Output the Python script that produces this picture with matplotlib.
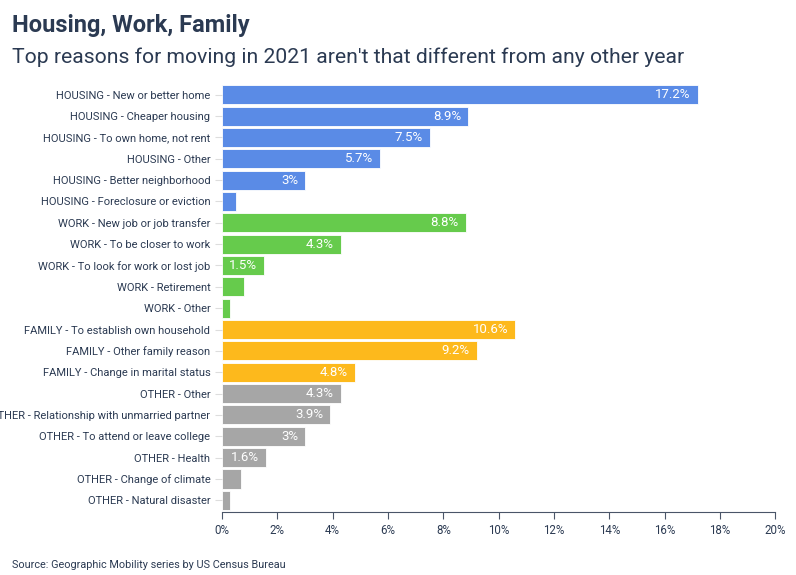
import matplotlib
matplotlib.use("Agg")
import matplotlib.pyplot as plt
from matplotlib.ticker import FuncFormatter

reasons = [
    "HOUSING - New or better home",
    "HOUSING - Cheaper housing",
    "HOUSING - To own home, not rent",
    "HOUSING - Other",
    "HOUSING - Better neighborhood",
    "HOUSING - Foreclosure or eviction",
    "WORK - New job or job transfer",
    "WORK - To be closer to work",
    "WORK - To look for work or lost job",
    "WORK - Retirement",
    "WORK - Other",
    "FAMILY - To establish own household",
    "FAMILY - Other family reason",
    "FAMILY - Change in marital status",
    "OTHER - Other",
    "OTHER - Relationship with unmarried partner",
    "OTHER - To attend or leave college",
    "OTHER - Health",
    "OTHER - Change of climate",
    "OTHER - Natural disaster",
]
values = [17.2, 8.9, 7.5, 5.7, 3.0, 0.5,
          8.8, 4.3, 1.5, 0.8, 0.3,
          10.6, 9.2, 4.8,
          4.3, 3.9, 3.0, 1.6, 0.7, 0.3]
groups = ["HOUSING"] * 6 + ["WORK"] * 5 + ["FAMILY"] * 3 + ["OTHER"] * 6
group_colors = {"HOUSING": "#5a8be6", "WORK": "#66cb4c",
                "FAMILY": "#fdb91c", "OTHER": "#a6a6a6"}
xticks = [0, 2, 4, 6, 8, 10, 12, 14, 16, 18, 20]

plt.rcParams["font.family"] = ["Roboto", "DejaVu Sans"]
navy = "#2b3a52"

fig = plt.figure(figsize=(7.96, 5.75), dpi=100)
ax = fig.add_axes([0.279, 0.1096, 0.695, 0.746])

ypos = list(range(len(values)))
colors = [group_colors[g] for g in groups]
ax.barh(ypos, values, height=0.9, color=colors, edgecolor="white", linewidth=0.6)

# value labels inside the bar ends (only where the bar is wide enough)
for y, v in zip(ypos, values):
    if v >= 1.5:
        txt = ("%g" % v) + "%"
        ax.annotate(txt, (v, y), xytext=(-5, 0), textcoords="offset points",
                    ha="right", va="center", color="white", fontsize=9.5)

ax.set_ylim(19.55, -0.55)
ax.set_xlim(0, 20)
ax.set_xticks(xticks)
ax.xaxis.set_major_formatter(FuncFormatter(lambda x, p: "%d%%" % x))
ax.set_yticks(ypos)
ax.set_yticklabels(reasons)

for s in ["top", "right", "left"]:
    ax.spines[s].set_visible(False)
ax.spines["bottom"].set_color("#4a5568")
ax.tick_params(axis="x", colors="#4a5568", labelcolor=navy, labelsize=8.3, length=5)
ax.tick_params(axis="y", color="#dddddd", labelcolor=navy, labelsize=8, length=5)

fig.text(0.015, 0.955, "Housing, Work, Family", fontsize=17, fontweight="bold",
         color=navy, va="center")
fig.text(0.015, 0.9, "Top reasons for moving in 2021 aren't that different from any other year",
         fontsize=15.2, color=navy, va="center")
fig.text(0.015, 0.018, "Source: Geographic Mobility series by US Census Bureau",
         fontsize=7.8, color=navy, va="center")

fig.savefig("out.png", dpi=100)
